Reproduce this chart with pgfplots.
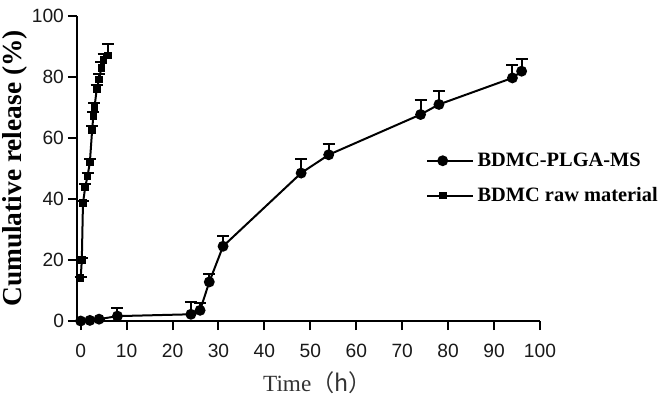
\documentclass[border=0pt]{standalone}
\usepackage{pgfplots}
\pgfplotsset{compat=1.18}
\usepackage{fontspec}
\setmainfont{Liberation Serif}
\newfontfamily\arial{Liberation Sans}
\newfontfamily\cjk{Noto Sans CJK SC}

% BDMC-PLGA-MS: time (h), release (%), upper error
\pgfplotstableread{
t    y     e
0    0     0
2    0.2   0
4    0.6   0
8    1.6   2.8
24   2.2   4.0
26   3.5   2.5
28   12.8  2.6
31   24.5  3.5
48   48.5  4.6
54   54.5  3.6
74   67.7  4.9
78   71.0  4.3
94   79.7  4.1
96   81.9  3.9
}\plga

% BDMC raw material
\pgfplotstableread{
t     y     e
0     14.0  0.5
0.25  20.0  0.5
0.5   38.6  0.8
1     44.0  1.0
1.5   47.5  1.0
2     52.0  1.2
2.5   62.7  1.2
2.75  67.1  1.5
3     70.0  1.5
3.5   76.0  1.5
4     79.2  1.8
4.5   83.0  2.0
5     85.5  2.0
6     87.1  3.8
}\raw

\begin{document}
\begin{tikzpicture}
\begin{axis}[
    scale only axis,
    width=231.5pt, height=152.5pt,
    xmin=-0.8, xmax=100, ymin=0, ymax=100,
    clip=false,
    axis x line*=bottom, axis y line*=left,
    axis line style={line width=1pt, -},
    xtick={0,10,...,100}, ytick={0,20,...,100},
    tick align=outside, major tick length=4.5pt,
    tick style={line width=1pt, black},
    /pgf/number format/assume math mode=true,
    tick label style={font=\arial\fontsize{9.6}{11}\selectfont, text=black!90},
    xticklabel style={yshift=-3.5pt},
    yticklabel style={xshift=1.5pt},
    xlabel={{\fontsize{11.6}{12}\selectfont Time\cjk（h）}},
    xlabel style={text=black!80, at={(axis description cs:0.5,0)}, anchor=center,
        yshift=-31pt, xshift=4.5pt},
    ylabel={\bfseries\fontsize{13.7}{15}\selectfont Cumulative release (\%)},
    ylabel style={at={(axis description cs:-0.134,0.5)}, anchor=center},
    legend style={draw=none, fill=none, at={(axis cs:73.8,58)}, anchor=north west,
        font=\bfseries\fontsize{10.2}{12}\selectfont, row sep=5pt},
    legend cell align=left,
    legend image code/.code={
        \path (0cm,0cm) -- (0.8cm,0cm);
        \draw[#1, line width=1pt] (0cm,0cm) -- (0.55cm,0cm);
        \draw[#1, only marks] plot coordinates {(0.275cm,0cm)};
    },
]
\addplot[black, line width=1pt, mark=*, mark size=2.2pt,
    error bars/.cd, y dir=plus, y explicit,
    error bar style={line width=1pt},
    error mark options={rotate=90, mark size=3pt, line width=1pt}]
    table[x=t, y=y, y error=e] {\plga};
\addlegendentry{BDMC-PLGA-MS}
\addplot[black, line width=1pt, mark=square*, mark size=1.4pt,
    error bars/.cd, y dir=plus, y explicit,
    error bar style={line width=1pt},
    error mark options={rotate=90, mark size=3pt, line width=1pt}]
    table[x=t, y=y, y error=e] {\raw};
\addlegendentry{BDMC raw material}
\end{axis}
\pgfresetboundingbox
\path[use as bounding box] (current axis.south west) ++(-38.5pt,-40.5pt) rectangle ++(333pt,201pt);
\end{tikzpicture}
\end{document}
